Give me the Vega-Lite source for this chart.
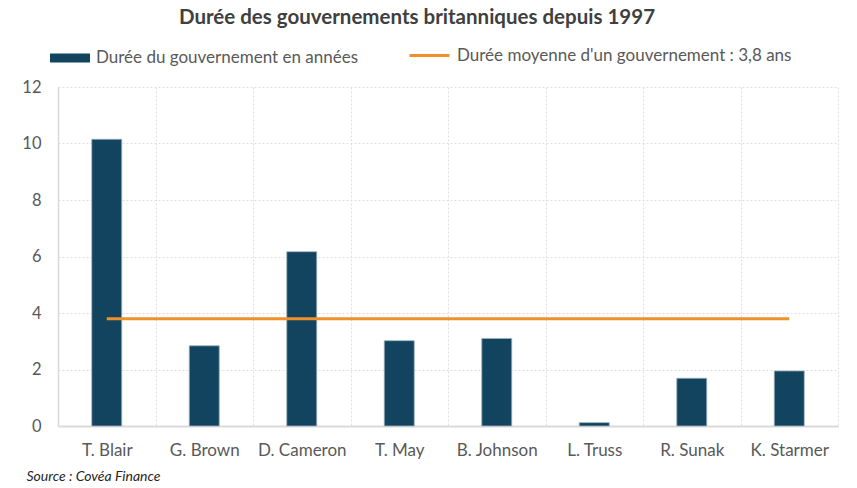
{
  "$schema": "https://vega.github.io/schema/vega-lite/v6.json",
  "width": 780,
  "height": 339,
  "autosize": "none",
  "padding": {"left": 58, "top": 87, "right": 19, "bottom": 62},
  "background": "white",
  "title": {
    "text": "Durée des gouvernements britanniques depuis 1997",
    "anchor": "middle",
    "frame": "group",
    "dx": -31,
    "offset": 6,
    "font": "Lato",
    "fontSize": 20.5,
    "fontWeight": "bold",
    "color": "#404040"
  },
  "data": {
    "values": [
      {"premier": "T. Blair", "duree": 10.15, "moyenne": 3.8},
      {"premier": "G. Brown", "duree": 2.84, "moyenne": 3.8},
      {"premier": "D. Cameron", "duree": 6.17, "moyenne": 3.8},
      {"premier": "T. May", "duree": 3.02, "moyenne": 3.8},
      {"premier": "B. Johnson", "duree": 3.1, "moyenne": 3.8},
      {"premier": "L. Truss", "duree": 0.12, "moyenne": 3.8},
      {"premier": "R. Sunak", "duree": 1.69, "moyenne": 3.8},
      {"premier": "K. Starmer", "duree": 1.95, "moyenne": 3.8}
    ]
  },
  "encoding": {
    "x": {
      "field": "premier",
      "type": "nominal",
      "sort": null,
      "scale": {"paddingInner": 0, "paddingOuter": 0},
      "axis": {
        "title": "Source : Covéa Finance",
        "titleFont": "Lato",
        "titleFontSize": 14,
        "titleFontStyle": "italic",
        "titleFontWeight": "normal",
        "titleColor": "#262626",
        "titleAnchor": "start",
        "titleAlign": "left",
        "titleX": -32,
        "titleY": 43,
        "labelAngle": 0,
        "labelFont": "Lato",
        "labelFontSize": 17,
        "labelColor": "#595959",
        "labelPadding": 16,
        "ticks": false,
        "tickBand": "extent",
        "grid": true,
        "gridColor": "#dedede",
        "gridDash": [2, 2],
        "gridWidth": 1,
        "domainColor": "#d9d9d9",
        "domainWidth": 2
      }
    }
  },
  "layer": [
    {
      "mark": {"type": "bar", "size": 30, "stroke": "#9fb3c0", "strokeWidth": 0.8},
      "encoding": {
        "y": {
          "field": "duree",
          "type": "quantitative",
          "scale": {"domain": [0, 12], "nice": false},
          "axis": {
            "title": null,
            "values": [0, 2, 4, 6, 8, 10, 12],
            "labelFont": "Lato",
            "labelFontSize": 16.5,
            "labelColor": "#595959",
            "labelPadding": 17,
            "ticks": false,
            "grid": true,
            "gridColor": "#dedede",
            "gridDash": [2, 2],
            "gridWidth": 1,
            "domainColor": "#d9d9d9",
            "domainWidth": 1.5
          }
        },
        "fill": {
          "datum": "Durée du gouvernement en années",
          "scale": {"range": ["#12445f"]},
          "legend": {
            "legendX": -8,
            "legendY": -49,
            "symbolType": "M-1,-0.225H1V0.225H-1Z",
            "symbolStrokeWidth": 0
          }
        }
      }
    },
    {
      "mark": {"type": "line", "strokeWidth": 3},
      "encoding": {
        "y": {"field": "moyenne", "type": "quantitative"},
        "stroke": {
          "datum": "Durée moyenne d'un gouvernement : 3,8 ans",
          "scale": {"range": ["#f0902a"]},
          "legend": {
            "legendX": 350,
            "legendY": -53,
            "symbolType": "stroke",
            "symbolStrokeWidth": 3
          }
        }
      }
    }
  ],
  "config": {
    "view": {"stroke": null},
    "legend": {
      "orient": "none",
      "direction": "horizontal",
      "title": null,
      "labelFont": "Lato",
      "labelFontSize": 17,
      "labelColor": "#595959",
      "labelOffset": 6,
      "labelLimit": 0,
      "symbolSize": 1600
    }
  }
}
